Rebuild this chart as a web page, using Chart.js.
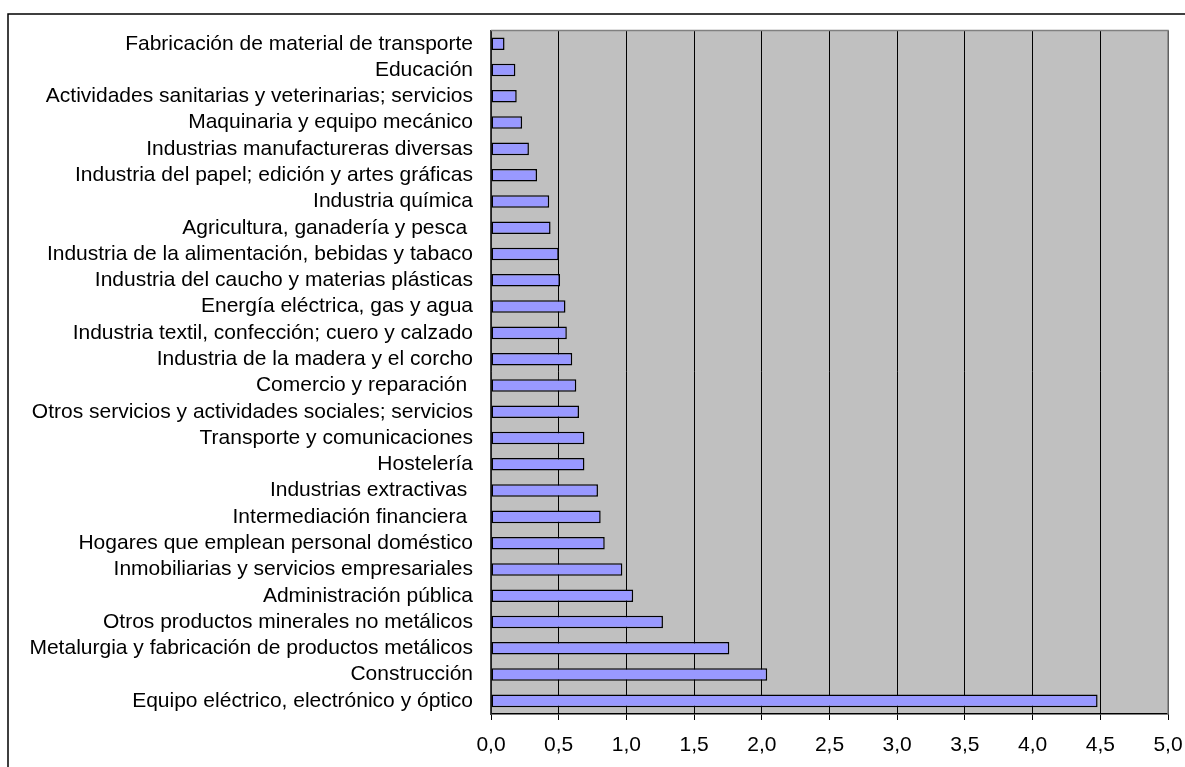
<!DOCTYPE html>
<html>
<head>
<meta charset="utf-8">
<script src="https://cdn.jsdelivr.net/npm/chart.js@4"></script>
<style>
  html, body { margin: 0; padding: 0; background: #fff; }
  #wrap { width: 1185px; height: 767px; position: relative; }
</style>
</head>
<body>
<div id="wrap"><canvas id="sectorChart"></canvas></div>
<script>
// Sectors, top to bottom as in the picture
const sectors = [
    'Fabricación de material de transporte',
    'Educación',
    'Actividades sanitarias y veterinarias; servicios',
    'Maquinaria y equipo mecánico',
    'Industrias manufactureras diversas',
    'Industria del papel; edición y artes gráficas',
    'Industria química',
    'Agricultura, ganadería y pesca ',
    'Industria de la alimentación, bebidas y tabaco',
    'Industria del caucho y materias plásticas',
    'Energía eléctrica, gas y agua',
    'Industria textil, confección; cuero y calzado',
    'Industria de la madera y el corcho',
    'Comercio y reparación ',
    'Otros servicios y actividades sociales; servicios',
    'Transporte y comunicaciones',
    'Hostelería',
    'Industrias extractivas ',
    'Intermediación financiera ',
    'Hogares que emplean personal doméstico',
    'Inmobiliarias y servicios empresariales',
    'Administración pública',
    'Otros productos minerales no metálicos',
    'Metalurgia y fabricación de productos metálicos',
    'Construcción',
    'Equipo eléctrico, electrónico y óptico'
];

const sectorValues = [
    0.10, 0.18, 0.19, 0.23, 0.28, 0.34, 0.43, 0.44, 0.50, 0.51,
    0.55, 0.56, 0.60, 0.63, 0.65, 0.69, 0.69, 0.79, 0.81, 0.84,
    0.97, 1.05, 1.27, 1.76, 2.04, 4.48
];

// x axis range and step
const xMin = 0;
const xMax = 5;
const xStep = 0.5;

// Grey plot area and the outer frame lines
const framePlugin = {
    id: 'frame',
    beforeDraw(chart) {
        const ctx = chart.ctx;
        const a = chart.chartArea;
        ctx.save();
        ctx.fillStyle = '#c0c0c0';
        ctx.fillRect(a.left, a.top, a.right - a.left, a.bottom - a.top);
        ctx.strokeStyle = '#000';
        ctx.lineWidth = 1.5;
        ctx.beginPath();
        ctx.moveTo(8, 767);
        ctx.lineTo(8, 14);
        ctx.lineTo(1185, 14);
        ctx.stroke();
        ctx.restore();
    },
    afterDatasetsDraw(chart) {
        const ctx = chart.ctx;
        const a = chart.chartArea;
        ctx.save();
        ctx.strokeStyle = '#808080';
        ctx.lineWidth = 1.5;
        ctx.beginPath();
        ctx.moveTo(a.left, a.top);
        ctx.lineTo(a.right, a.top);
        ctx.lineTo(a.right, a.bottom);
        ctx.stroke();
        ctx.restore();
    }
};

Chart.defaults.font.family = '"Liberation Sans", Arial, sans-serif';
Chart.defaults.font.size = 21;
Chart.defaults.color = '#000';

const sectorCtx = document.getElementById('sectorChart').getContext('2d');

const sectorChart = new Chart(sectorCtx, {
    type: 'bar',
    data: {
        labels: sectors,
        datasets: [{
            data: sectorValues,
            backgroundColor: '#9999ff',
            borderColor: '#000',
            borderWidth: 1.5,
            borderSkipped: false,
            categoryPercentage: 0.9,
            barPercentage: 0.53
        }]
    },
    options: {
        indexAxis: 'y', // horizontal bars
        responsive: true,
        maintainAspectRatio: false,
        animation: false,
        layout: { padding: { left: 0, top: 27, right: 17, bottom: 0 } },
        plugins: {
            legend: { display: false },
            tooltip: { enabled: false }
        },
        scales: {
            x: {
                min: xMin,
                max: xMax,
                ticks: {
                    stepSize: xStep,
                    padding: 13,
                    callback: (v) => v.toFixed(1).replace('.', ',')
                },
                grid: { color: '#000', lineWidth: 1, tickLength: 6 },
                border: { color: '#000', width: 1.5 },
                afterFit: (scale) => {
                    scale.height = 767 - 714;
                    scale.paddingLeft = 0;
                    scale.paddingRight = 0;
                }
            },
            y: {
                ticks: { padding: 18, autoSkip: false },
                grid: { display: false, drawTicks: false },
                border: { color: '#404040', width: 1.5 },
                afterFit: (scale) => { scale.width = 491; }
            }
        }
    },
    plugins: [framePlugin]
});
</script>
</body>
</html>
